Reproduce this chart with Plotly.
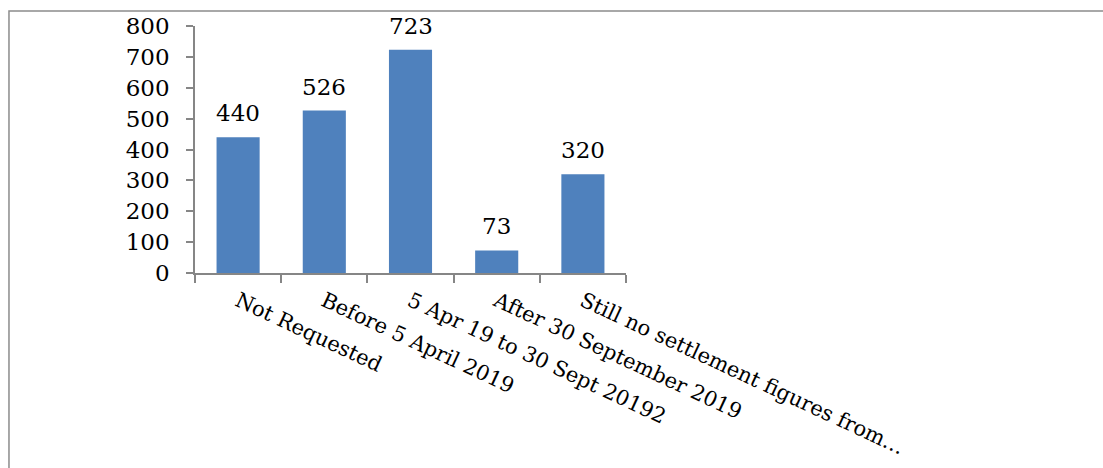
import plotly.graph_objects as go

categories = [
    "Not Requested",
    "Before 5 April 2019",
    "5 Apr 19 to 30 Sept 20192",
    "After 30 September 2019",
    "Still no settlement figures from…",
]
counts = [440, 526, 723, 73, 320]
y_ticks = [0, 100, 200, 300, 400, 500, 600, 700, 800]

FONT = "DejaVu Serif"
AXIS_GREY = "#868686"
BAR_BLUE = "#4F81BD"

fig = go.Figure(
    go.Bar(
        x=categories,
        y=counts,
        marker=dict(color=BAR_BLUE, line=dict(width=0)),
        hoverinfo="skip",
    )
)

# value labels above each bar
for cat, val in zip(categories, counts):
    fig.add_annotation(
        x=cat, y=val, text=str(val), showarrow=False,
        yanchor="middle", yshift=24,
        font=dict(family=FONT, size=23, color="black"),
    )

# chart-area border
fig.add_shape(
    type="rect", xref="paper", yref="paper",
    x0=-0.4316, x1=6.0, y0=-4.0, y1=1.0607,
    line=dict(color="#8c8c8c", width=1.5),
    fillcolor="rgba(0,0,0,0)", layer="below",
)

fig.update_layout(
    width=1103, height=468,
    margin=dict(l=195, r=477, t=26, b=195),
    paper_bgcolor="white", plot_bgcolor="white",
    bargap=0.5,
    showlegend=False,
    font=dict(family=FONT, size=23, color="black"),
)
fig.update_xaxes(
    showline=True, linecolor=AXIS_GREY, linewidth=1.5,
    ticks="outside", tickson="boundaries", ticklen=8, tickcolor=AXIS_GREY, tickwidth=1.5,
    tickangle=25, showgrid=False, zeroline=False, automargin=False,
    ticklabelstandoff=6,
    tickfont=dict(family=FONT, size=21, color="black"),
)
fig.update_yaxes(
    range=[0, 800], tickvals=y_ticks, ticktext=[str(v) for v in y_ticks],
    showline=True, linecolor=AXIS_GREY, linewidth=1.5,
    ticks="outside", ticklen=7, tickcolor=AXIS_GREY, tickwidth=1.5,
    showgrid=False, zeroline=False, automargin=False, ticklabelstandoff=12,
    tickfont=dict(family=FONT, size=23, color="black"),
)

fig.write_html("out.html")
